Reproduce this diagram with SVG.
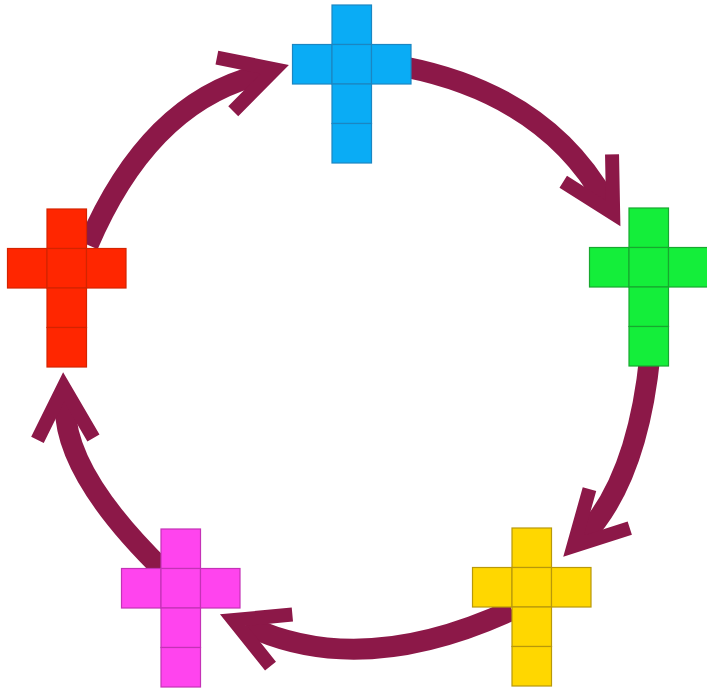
<svg xmlns="http://www.w3.org/2000/svg" xmlns:xlink="http://www.w3.org/1999/xlink" width="707" height="691" viewBox="0 0 707 691">
  <style>
    .body { fill: none; stroke: #8C1848; stroke-width: 21; stroke-linecap: butt; }
    .head { fill: none; stroke: #8C1848; stroke-width: 14; stroke-linejoin: miter; stroke-miterlimit: 6; stroke-linecap: butt; }
    .sq { stroke-width: 1.2; }
  </style>
  <defs>
    <g id="cross">
      <rect class="sq" x="0" y="0" width="39.5" height="39.5"/>
      <rect class="sq" x="-39.5" y="39.5" width="39.5" height="39.5"/>
      <rect class="sq" x="0" y="39.5" width="39.5" height="39.5"/>
      <rect class="sq" x="39.5" y="39.5" width="39.5" height="39.5"/>
      <rect class="sq" x="0" y="79" width="39.5" height="39.5"/>
      <rect class="sq" x="0" y="118.5" width="39.5" height="39.5"/>
    </g>
    <polyline id="head" class="head" points="-70,-28 -18,0 -70,28"/>
  </defs>
  <rect width="707" height="691" fill="#ffffff"/>
  <g id="connectors">
    <path class="body" d="M405,67 Q546,95 606,202"/>
    <use xlink:href="#head" href="#head" transform="translate(622,229) rotate(60.6)"/>
    <path class="body" d="M650,355 Q637.5,480 583,537"/>
    <use xlink:href="#head" href="#head" transform="translate(561,559) rotate(134)"/>
    <path class="body" d="M512,610 Q360,680 246,625"/>
    <use xlink:href="#head" href="#head" transform="translate(217,613) rotate(203)"/>
    <path class="body" d="M165,572 Q60,470 65.6,400"/>
    <use xlink:href="#head" href="#head" transform="translate(63,369) rotate(-92)"/>
    <path class="body" d="M88,245 Q150,100 263,74"/>
    <use xlink:href="#head" href="#head" transform="translate(292,64) rotate(-17)"/>
  </g>
  <g id="blue">
    <use xlink:href="#cross" href="#cross" x="332" y="5" fill="#0AACF5" stroke="#1B86C2"/>
  </g>
  <g id="green">
    <use xlink:href="#cross" href="#cross" x="629" y="208" fill="#14EE3A" stroke="#17A82F"/>
  </g>
  <g id="yellow">
    <use xlink:href="#cross" href="#cross" x="512" y="528" fill="#FFD700" stroke="#B8980A"/>
  </g>
  <g id="magenta">
    <use xlink:href="#cross" href="#cross" x="161" y="529" fill="#FF44EE" stroke="#C432B6"/>
  </g>
  <g id="red">
    <use xlink:href="#cross" href="#cross" x="47" y="209" fill="#FF2600" stroke="#D42400"/>
  </g>
</svg>
